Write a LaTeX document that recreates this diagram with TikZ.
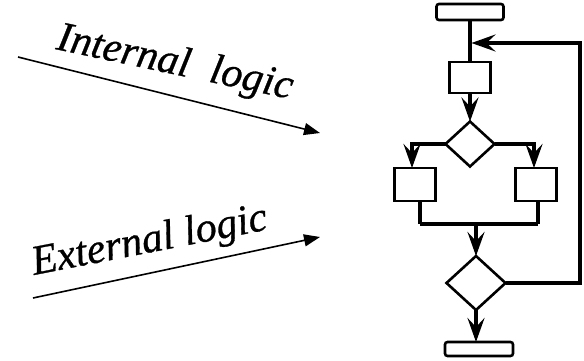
\documentclass[tikz,border=0pt]{standalone}
\usepackage{fontspec}
\setmainfont{Liberation Serif}
\usetikzlibrary{shapes.geometric,arrows.meta}
\begin{document}
\begin{tikzpicture}[x=1pt,y=-1pt,
  box/.style={draw, line width=2.6pt, minimum width=41pt, minimum height=31pt, inner sep=0pt, outer sep=0pt},
  term/.style={draw, rounded corners=2.5pt, line width=2.6pt, inner sep=0pt, outer sep=0pt},
  test/.style={draw, diamond, line width=2.6pt, inner sep=0pt, outer sep=0pt},
  link/.style={line width=3.1pt},
  flow/.style={link, -{Stealth[length=24pt,width=17pt,inset=9pt]}},
  hint/.style={line width=1.6pt, -{Triangle[length=16pt,width=12pt]}},
  lbl/.style={font=\fontsize{42}{46}\selectfont\itshape\addfontfeatures{FakeBold=0.7}, inner sep=0pt, anchor=base west}
]
\useasboundingbox (0,0) rectangle (584,361);

% flowchart blocks
\node[term, minimum width=67pt, minimum height=16pt] (start) at (470,12) {};
\node[box] (b1) at (470,77.5) {};
\node[test, minimum width=49pt, minimum height=45pt] (d1) at (470,144) {};
\node[box, minimum height=33pt] (L) at (415,184.5) {};
\node[box, minimum height=33pt] (R) at (536,184.5) {};
\node[test, minimum width=59pt, minimum height=54pt] (d2) at (476,283) {};
\node[term, minimum width=68pt, minimum height=14pt] (stop) at (479,349) {};

% helper points
\coordinate (loop) at (471.5,43);
\coordinate (rail) at (580,43);
\coordinate (jl) at (420,224);
\coordinate (jr) at (538,224);

% connectors
\draw[link] (start.south) -- (b1.north);
\draw[flow] (b1.south) -- (d1.north);
\draw[flow] (d1.west) -| ([xshift=-3pt]L.north);
\draw[flow] (d1.east) -| ([xshift=-2pt]R.north);
\draw[link] (L.south -| jl) -- (jl);
\draw[link] (R.south -| jr) -- (jr);
\draw[link] (jl) -- (jr);
\draw[flow] (d2.north |- jl) -- (d2.north);
\draw[flow] (d2.south) -- (d2.south |- stop.north);
\draw[flow] (d2.east) -- (d2.east -| rail) -- (rail) -- (loop);

% annotation arrows
\coordinate (i0) at (18,57);
\coordinate (i1) at (320,133);
\coordinate (e0) at (33,298);
\coordinate (e1) at (320,237);
\draw[hint] (i0) -- (i1);
\draw[hint] (e0) -- (e1);
\node[lbl, rotate=-12] (itxt) at (55,49) {Internal\hspace{0.25em} logic};
\node[lbl, rotate=11] (etxt) at (34,275) {External logic};
\end{tikzpicture}
\end{document}
